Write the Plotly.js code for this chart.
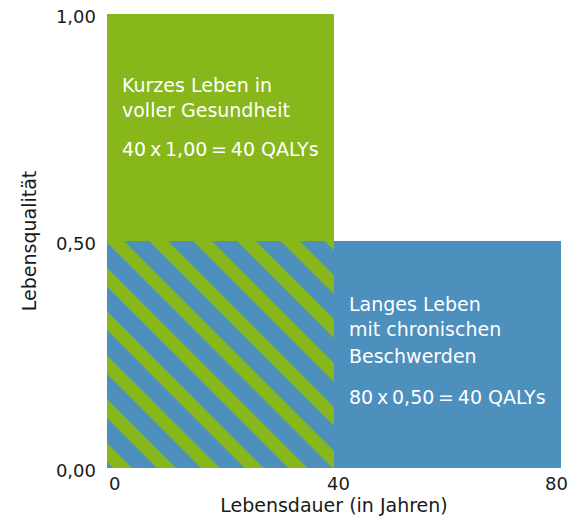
<!DOCTYPE html>
<html>
<head>
<meta charset="utf-8">
<script src="https://cdn.plot.ly/plotly-3.0.1.min.js"></script>
<style>
  html, body { margin: 0; padding: 0; background: #ffffff; }
  #chart { width: 569px; height: 516px; }
</style>
</head>
<body>
<div id="chart"></div>
<script>
// ---- data ----
const scenarios = ['Kurzes Leben in voller Gesundheit', 'Langes Leben mit chronischen Beschwerden'];
const lifeYears = [40, 80];          // Lebensdauer (in Jahren)
const qualityOfLife = [1.00, 0.50];  // Lebensqualität
const labelLinesShort = ['Kurzes Leben in', 'voller Gesundheit'];
const labelLinesLong = ['Langes Leben', 'mit chronischen', 'Beschwerden'];
const xTickVals = [0, 40, 80];
const xTickText = ['0', '40', '80'];
const yTickVals = [0, 0.5, 1];
const yTickText = ['0,00', '0,50', '1,00'];

// ---- styles ----
const GREEN = '#87b71b';
const BLUE = '#4d8fbd';
const INK = '#1a1a1a';
const FONT = 'DejaVu Sans, Open Sans, sans-serif';
const FS = 19;
const TFS = 18;
const xTickShift = [7, 4, -5];

const fmt = v => v.toFixed(2).replace('.', ',');
const thin = '\u2009';
const qalyText = i => `${lifeYears[i]}${thin}x${thin}${fmt(qualityOfLife[i])}${thin}=${thin}${lifeYears[i] * qualityOfLife[i]} QALYs`;

const overlapX = Math.min(...lifeYears);
const overlapY = Math.min(...qualityOfLife);

const traces = [
  { // shared region: hatched
    type: 'bar', name: 'Überschneidung',
    x: [overlapX / 2], width: [overlapX], base: [0], y: [overlapY],
    marker: { color: BLUE, line: { width: 0 },
      pattern: { shape: '\\', bgcolor: BLUE, fgcolor: GREEN, size: 31, solidity: 0.43, fillmode: 'replace' } },
    hoverinfo: 'skip', showlegend: false
  },
  { // short life, full health (upper part)
    type: 'bar', name: scenarios[0],
    x: [lifeYears[0] / 2], width: [lifeYears[0]], base: [overlapY], y: [qualityOfLife[0] - overlapY],
    marker: { color: GREEN, line: { width: 0 } },
    hoverinfo: 'skip', showlegend: false
  },
  { // long life, chronic (right part)
    type: 'bar', name: scenarios[1],
    x: [(overlapX + lifeYears[1]) / 2], width: [lifeYears[1] - overlapX], base: [0], y: [qualityOfLife[1]],
    marker: { color: BLUE, line: { width: 0 } },
    hoverinfo: 'skip', showlegend: false
  }
];

const textFont = { family: FONT, size: FS, color: '#ffffff' };
const ann = (x, y, text) => ({ xref: 'x', yref: 'y', x, y, text, showarrow: false,
  xanchor: 'left', yanchor: 'middle', font: textFont, align: 'left' });

const annotations = [
  ann(2.3, 0.8436, labelLinesShort[0]),
  ann(2.3, 0.7896, labelLinesShort[1]),
  ann(2.3, 0.7037, qalyText(0)),
  ann(42.3, 0.3623, labelLinesLong[0]),
  ann(42.3, 0.3051, labelLinesLong[1]),
  ann(42.3, 0.2467, labelLinesLong[2]),
  ann(42.3, 0.157, qalyText(1))
];

// x-axis tick labels placed on the x scale (kept inside the page at the right edge)
xTickVals.forEach((v, i) => {
  annotations.push({
    xref: 'x', yref: 'paper', x: v, y: 0, text: xTickText[i], showarrow: false,
    xanchor: 'center', yanchor: 'middle', xshift: xTickShift[i], yshift: -15,
    font: { family: FONT, size: TFS, color: INK }
  });
});

const layout = {
  width: 569, height: 516,
  margin: { l: 107, r: 8, t: 14, b: 48, pad: 0 },
  paper_bgcolor: '#ffffff', plot_bgcolor: '#ffffff',
  barmode: 'overlay',
  showlegend: false,
  font: { family: FONT, size: FS, color: INK },
  xaxis: {
    range: [0, 80], tickvals: xTickVals, ticktext: xTickText, showticklabels: false,
    showgrid: false, zeroline: false, showline: false, ticks: '',
    tickfont: { family: FONT, size: TFS, color: INK },
    title: { text: 'Lebensdauer (in Jahren)', font: { family: FONT, size: FS, color: INK }, standoff: 31 },
    automargin: false,
    fixedrange: true
  },
  yaxis: {
    range: [0, 1], tickvals: yTickVals, ticktext: yTickText,
    showgrid: false, zeroline: false, showline: false, ticks: '',
    ticklabelstandoff: 10, ticklabelshift: 3,
    tickfont: { family: FONT, size: TFS, color: INK },
    title: { text: 'Lebensqualität', font: { family: FONT, size: FS, color: INK }, standoff: 14 },
    automargin: false,
    fixedrange: true
  },
  annotations
};

Plotly.newPlot('chart', traces, layout, { displayModeBar: false, staticPlot: true });
</script>
</body>
</html>
